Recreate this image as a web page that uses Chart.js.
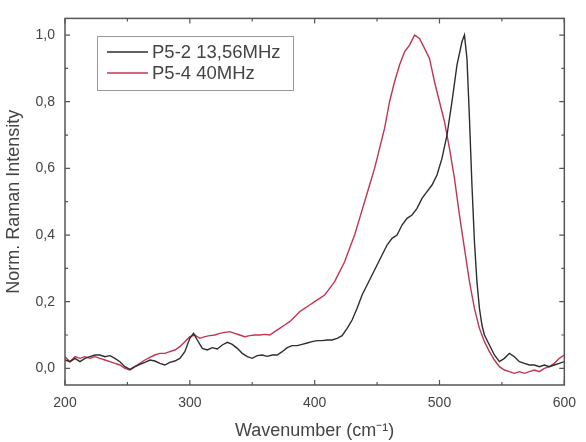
<!DOCTYPE html>
<html>
<head>
<meta charset="utf-8">
<script src="https://cdn.jsdelivr.net/npm/chart.js"></script>
<style>
  html, body { margin: 0; padding: 0; background: #fff; }
  #wrap { width: 586px; height: 442px; }
</style>
</head>
<body>
<div id="wrap"><canvas id="raman" width="586" height="442"></canvas></div>
<script>
// P5-2 13,56MHz (black)
const p52Wave = [200,204,208,212,216,220,224,228,232,236,240,244,248,252,256,260,264,268,272,276,280,284,288,292,296,300,303,306,310,314,318,322,326,330,334,338,342,346,350,354,358,362,366,370,374,378,382,386,390,394,398,402,406,410,414,418,422,426,430,434,438,442,446,450,454,458,462,466,470,474,478,482,486,490,494,498,502,506,510,514,518,520,522,524,526,528,530,532,534,536,540,544,548,552,556,560,564,568,572,576,580,584,588,592,596,600];
const p52Int = [0.025,0.02,0.03,0.02,0.03,0.035,0.04,0.04,0.035,0.038,0.03,0.02,0.005,-0.003,0.005,0.012,0.018,0.025,0.022,0.015,0.01,0.018,0.022,0.03,0.05,0.09,0.105,0.085,0.06,0.055,0.062,0.058,0.07,0.078,0.072,0.06,0.045,0.035,0.03,0.038,0.04,0.036,0.04,0.04,0.05,0.062,0.068,0.068,0.072,0.076,0.08,0.083,0.083,0.085,0.085,0.09,0.098,0.12,0.145,0.18,0.22,0.25,0.28,0.31,0.34,0.37,0.39,0.4,0.43,0.45,0.46,0.48,0.51,0.53,0.55,0.58,0.63,0.7,0.8,0.91,0.98,1.0,0.93,0.75,0.55,0.38,0.26,0.18,0.13,0.1,0.07,0.04,0.02,0.03,0.045,0.035,0.02,0.015,0.01,0.01,0.005,0.01,0.005,0.01,0.015,0.02];

// P5-4 40MHz (red)
const p54Wave = [200,204,208,212,216,220,224,228,232,236,240,244,248,252,256,260,264,268,272,276,280,284,288,292,296,300,304,308,312,316,320,324,328,332,336,340,344,348,352,356,360,364,368,372,376,380,384,388,392,396,400,404,408,412,416,420,424,428,432,436,440,444,448,452,456,460,464,468,472,476,480,484,488,492,496,500,504,508,512,516,520,524,528,532,536,540,544,548,552,556,560,564,568,572,576,580,584,588,592,596,600];
const p54Int = [0.035,0.02,0.035,0.03,0.035,0.03,0.035,0.03,0.025,0.02,0.015,0.01,0.0,-0.005,0.005,0.015,0.025,0.033,0.04,0.045,0.045,0.05,0.055,0.065,0.08,0.095,0.1,0.09,0.095,0.098,0.1,0.105,0.108,0.11,0.105,0.1,0.095,0.098,0.1,0.1,0.102,0.1,0.11,0.12,0.13,0.14,0.155,0.17,0.18,0.19,0.2,0.21,0.22,0.24,0.26,0.29,0.32,0.36,0.4,0.45,0.5,0.55,0.6,0.66,0.72,0.8,0.86,0.91,0.95,0.97,1.0,0.99,0.96,0.93,0.86,0.8,0.74,0.66,0.57,0.46,0.36,0.26,0.18,0.12,0.08,0.05,0.025,0.005,-0.005,-0.01,-0.015,-0.01,-0.015,-0.01,-0.005,-0.01,0.0,0.005,0.015,0.03,0.04];

const xTicks = [200, 300, 400, 500, 600];
const yTicks = [0, 0.2, 0.4, 0.6, 0.8, 1.0];
const xMinor = [250, 350, 450, 550];
const yMinor = [0.1, 0.3, 0.5, 0.7, 0.9];

const axisColor = '#555';
const textColor = '#444';
const fontFamily = '"Liberation Sans", Arial, sans-serif';

const toPoints = (xs, ys) => xs.map((x, i) => ({ x: x, y: ys[i] }));

// frame with inward ticks on all four sides
const framePlugin = {
    id: 'frame',
    afterDatasetsDraw(chart) {
        const { ctx, chartArea: a, scales } = chart;
        ctx.save();
        ctx.strokeStyle = axisColor;
        ctx.lineWidth = 1.5;
        ctx.strokeRect(a.left, a.top, a.right - a.left, a.bottom - a.top);
        ctx.lineWidth = 1.2;
        ctx.beginPath();
        const xt = (v, len) => {
            const px = scales.x.getPixelForValue(v);
            ctx.moveTo(px, a.bottom); ctx.lineTo(px, a.bottom - len);
            ctx.moveTo(px, a.top); ctx.lineTo(px, a.top + len);
        };
        const yt = (v, len) => {
            const py = scales.y.getPixelForValue(v);
            ctx.moveTo(a.left, py); ctx.lineTo(a.left + len, py);
            ctx.moveTo(a.right, py); ctx.lineTo(a.right - len, py);
        };
        xTicks.forEach(v => xt(v, 5));
        xMinor.forEach(v => xt(v, 3));
        yTicks.forEach(v => yt(v, 5));
        yMinor.forEach(v => yt(v, 3));
        ctx.stroke();
        ctx.restore();
    }
};

// boxed legend inside the plot, upper left
const boxLegend = {
    id: 'boxLegend',
    afterDraw(chart) {
        const { ctx } = chart;
        const x0 = 97, y0 = 36, w = 196, h = 54;
        ctx.save();
        ctx.strokeStyle = '#999';
        ctx.lineWidth = 1;
        ctx.strokeRect(x0 + 0.5, y0 + 0.5, w, h);
        ctx.font = '18.5px ' + fontFamily;
        ctx.textBaseline = 'middle';
        chart.data.datasets.forEach((ds, i) => {
            const y = y0 + 16 + i * 21;
            ctx.strokeStyle = ds.borderColor;
            ctx.lineWidth = 1.5;
            ctx.beginPath();
            ctx.moveTo(x0 + 10, y);
            ctx.lineTo(x0 + 51, y);
            ctx.stroke();
            ctx.fillStyle = textColor;
            ctx.fillText(ds.label, x0 + 55, y + 1);
        });
        ctx.restore();
    }
};

new Chart(document.getElementById('raman'), {
    type: 'line',
    data: {
        datasets: [
            {
                label: 'P5-2 13,56MHz',
                data: toPoints(p52Wave, p52Int),
                borderColor: '#2e2e2e',
                borderWidth: 1.4,
                pointRadius: 0,
                tension: 0
            },
            {
                label: 'P5-4 40MHz',
                data: toPoints(p54Wave, p54Int),
                borderColor: '#c4344f',
                borderWidth: 1.4,
                pointRadius: 0,
                tension: 0
            }
        ]
    },
    options: {
        responsive: false,
        animation: false,
        layout: { padding: { top: 13, right: 14, left: 0, bottom: 0 } },
        plugins: {
            legend: { display: false },
            tooltip: { enabled: false }
        },
        scales: {
            x: {
                type: 'linear',
                min: 200,
                max: 600,
                afterBuildTicks: s => { s.ticks = xTicks.map(v => ({ value: v })); },
                afterFit: s => { s.height = 57; },
                grid: { display: false, drawTicks: false },
                border: { display: false },
                ticks: {
                    color: textColor,
                    font: { family: fontFamily, size: 14 },
                    padding: 10,
                    maxRotation: 0
                },
                title: {
                    display: true,
                    text: 'Wavenumber (cm⁻¹)',
                    color: textColor,
                    font: { family: fontFamily, size: 18 },
                    padding: { top: 5, bottom: 0 }
                }
            },
            y: {
                type: 'linear',
                min: -0.05,
                max: 1.05,
                afterBuildTicks: s => { s.ticks = yTicks.map(v => ({ value: v })); },
                afterFit: s => { s.width = 65; },
                grid: { display: false, drawTicks: false },
                border: { display: false },
                ticks: {
                    color: textColor,
                    font: { family: fontFamily, size: 14 },
                    padding: 10,
                    callback: v => v.toFixed(1).replace('.', ',')
                },
                title: {
                    display: true,
                    text: 'Norm. Raman Intensity',
                    color: textColor,
                    font: { family: fontFamily, size: 18 },
                    padding: { top: 3, bottom: 0 }
                }
            }
        }
    },
    plugins: [framePlugin, boxLegend]
});
</script>
</body>
</html>
